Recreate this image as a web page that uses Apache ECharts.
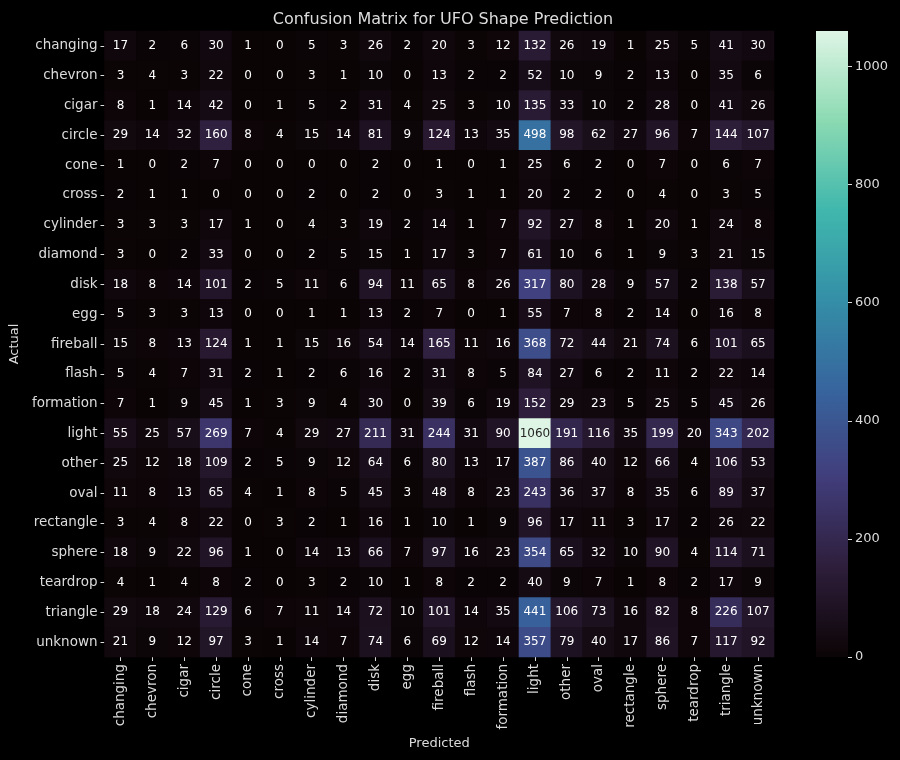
<!DOCTYPE html>
<html>
<head>
<meta charset="utf-8">
<script src="https://cdn.jsdelivr.net/npm/echarts@6/dist/echarts.min.js"></script>
<style>
html,body{margin:0;padding:0;background:#000;}
#chart{width:900px;height:760px;}
</style>
</head>
<body>
<div id="chart"></div>
<script>
const categories = ["changing","chevron","cigar","circle","cone","cross","cylinder","diamond","disk","egg","fireball","flash","formation","light","other","oval","rectangle","sphere","teardrop","triangle","unknown"];

const rowChanging  = [17,2,6,30,1,0,5,3,26,2,20,3,12,132,26,19,1,25,5,41,30];
const rowChevron   = [3,4,3,22,0,0,3,1,10,0,13,2,2,52,10,9,2,13,0,35,6];
const rowCigar     = [8,1,14,42,0,1,5,2,31,4,25,3,10,135,33,10,2,28,0,41,26];
const rowCircle    = [29,14,32,160,8,4,15,14,81,9,124,13,35,498,98,62,27,96,7,144,107];
const rowCone      = [1,0,2,7,0,0,0,0,2,0,1,0,1,25,6,2,0,7,0,6,7];
const rowCross     = [2,1,1,0,0,0,2,0,2,0,3,1,1,20,2,2,0,4,0,3,5];
const rowCylinder  = [3,3,3,17,1,0,4,3,19,2,14,1,7,92,27,8,1,20,1,24,8];
const rowDiamond   = [3,0,2,33,0,0,2,5,15,1,17,3,7,61,10,6,1,9,3,21,15];
const rowDisk      = [18,8,14,101,2,5,11,6,94,11,65,8,26,317,80,28,9,57,2,138,57];
const rowEgg       = [5,3,3,13,0,0,1,1,13,2,7,0,1,55,7,8,2,14,0,16,8];
const rowFireball  = [15,8,13,124,1,1,15,16,54,14,165,11,16,368,72,44,21,74,6,101,65];
const rowFlash     = [5,4,7,31,2,1,2,6,16,2,31,8,5,84,27,6,2,11,2,22,14];
const rowFormation = [7,1,9,45,1,3,9,4,30,0,39,6,19,152,29,23,5,25,5,45,26];
const rowLight     = [55,25,57,269,7,4,29,27,211,31,244,31,90,1060,191,116,35,199,20,343,202];
const rowOther     = [25,12,18,109,2,5,9,12,64,6,80,13,17,387,86,40,12,66,4,106,53];
const rowOval      = [11,8,13,65,4,1,8,5,45,3,48,8,23,243,36,37,8,35,6,89,37];
const rowRectangle = [3,4,8,22,0,3,2,1,16,1,10,1,9,96,17,11,3,17,2,26,22];
const rowSphere    = [18,9,22,96,1,0,14,13,66,7,97,16,23,354,65,32,10,90,4,114,71];
const rowTeardrop  = [4,1,4,8,2,0,3,2,10,1,8,2,2,40,9,7,1,8,2,17,9];
const rowTriangle  = [29,18,24,129,6,7,11,14,72,10,101,14,35,441,106,73,16,82,8,226,107];
const rowUnknown   = [21,9,12,97,3,1,14,7,74,6,69,12,14,357,79,40,17,86,7,117,92];

const colorbarTicks = [0,200,400,600,800,1000];
const colorMin = 0;
const colorMax = 1060;

const rows = [rowChanging,rowChevron,rowCigar,rowCircle,rowCone,rowCross,rowCylinder,rowDiamond,rowDisk,rowEgg,rowFireball,rowFlash,rowFormation,rowLight,rowOther,rowOval,rowRectangle,rowSphere,rowTeardrop,rowTriangle,rowUnknown];

const makoStops = ['#0b0405','#2e1e3b','#413d7b','#37659e','#348fa7','#40b7ad','#8bdab2','#def5e5'];

const data = [];
rows.forEach((row, yi) => {
  row.forEach((v, xi) => {
    const item = { value: [xi, yi, v] };
    if (v / colorMax > 0.75) item.label = { color: '#262626' };
    data.push(item);
  });
});

const FONT = 'DejaVu Sans';
const TXT = '#dcdcdc';

// gradient for the colorbar (bottom = min, top = max)
const gradStops = makoStops.map((c, i) => ({ offset: 1 - i / (makoStops.length - 1), color: c })).reverse();

const chart = echarts.init(document.getElementById('chart'), null, { renderer: 'canvas' });
chart.setOption({
  backgroundColor: '#000000',
  animation: false,
  title: {
    text: 'Confusion Matrix for UFO Shape Prediction',
    left: 438, top: 7, textAlign: 'center',
    textStyle: { color: TXT, fontFamily: FONT, fontSize: 16, fontWeight: 'normal' }
  },
  grid: [
    { left: 103, top: 31, width: 671, height: 626 },
    { left: 816, top: 31, width: 32, height: 626 }
  ],
  graphic: [
    {
      type: 'rect', left: 816, top: 31, z: 0,
      shape: { width: 32, height: 626 },
      style: { fill: new echarts.graphic.LinearGradient(0, 0, 0, 1, gradStops) }
    }
  ],
  xAxis: [
    {
      type: 'category', data: categories, gridIndex: 0,
      name: 'Predicted', nameLocation: 'middle', nameGap: 80,
      nameTextStyle: { color: TXT, fontFamily: FONT, fontSize: 13 },
      axisLine: { show: false },
      axisTick: { show: true, alignWithLabel: true, length: 4, lineStyle: { color: TXT } },
      axisLabel: { rotate: 90, color: TXT, fontFamily: FONT, fontSize: 13.5, margin: 7, interval: 0 },
      splitLine: { show: false }
    },
    { type: 'value', gridIndex: 1, show: false, min: 0, max: 1 }
  ],
  yAxis: [
    {
      type: 'category', data: categories, gridIndex: 0, inverse: true,
      name: 'Actual', nameLocation: 'middle', nameGap: 82, nameRotate: 90,
      nameTextStyle: { color: TXT, fontFamily: FONT, fontSize: 13 },
      axisLine: { show: false },
      axisTick: { show: true, alignWithLabel: true, length: 4, lineStyle: { color: TXT } },
      axisLabel: { color: TXT, fontFamily: FONT, fontSize: 13.5, margin: 7, interval: 0 },
      splitLine: { show: false }
    },
    {
      type: 'value', gridIndex: 1, position: 'right', min: colorMin, max: colorMax,
      axisLine: { show: false, onZero: false },
      axisTick: { show: true, inside: false, length: 4, lineStyle: { color: TXT }, customValues: colorbarTicks },
      axisLabel: { color: TXT, fontFamily: FONT, fontSize: 13, margin: 7, customValues: colorbarTicks,
                   formatter: (v) => String(v) },
      splitLine: { show: false }
    }
  ],
  visualMap: {
    type: 'continuous', min: colorMin, max: colorMax,
    calculable: false, show: false,
    seriesIndex: 0,
    inRange: { color: makoStops }
  },
  series: [
    {
      type: 'heatmap', xAxisIndex: 0, yAxisIndex: 0,
      data: data,
      label: { show: true, color: '#ffffff', fontFamily: FONT, fontSize: 12 },
      itemStyle: { borderWidth: 0 },
      emphasis: { disabled: true }
    }
  ]
});
</script>
</body>
</html>
